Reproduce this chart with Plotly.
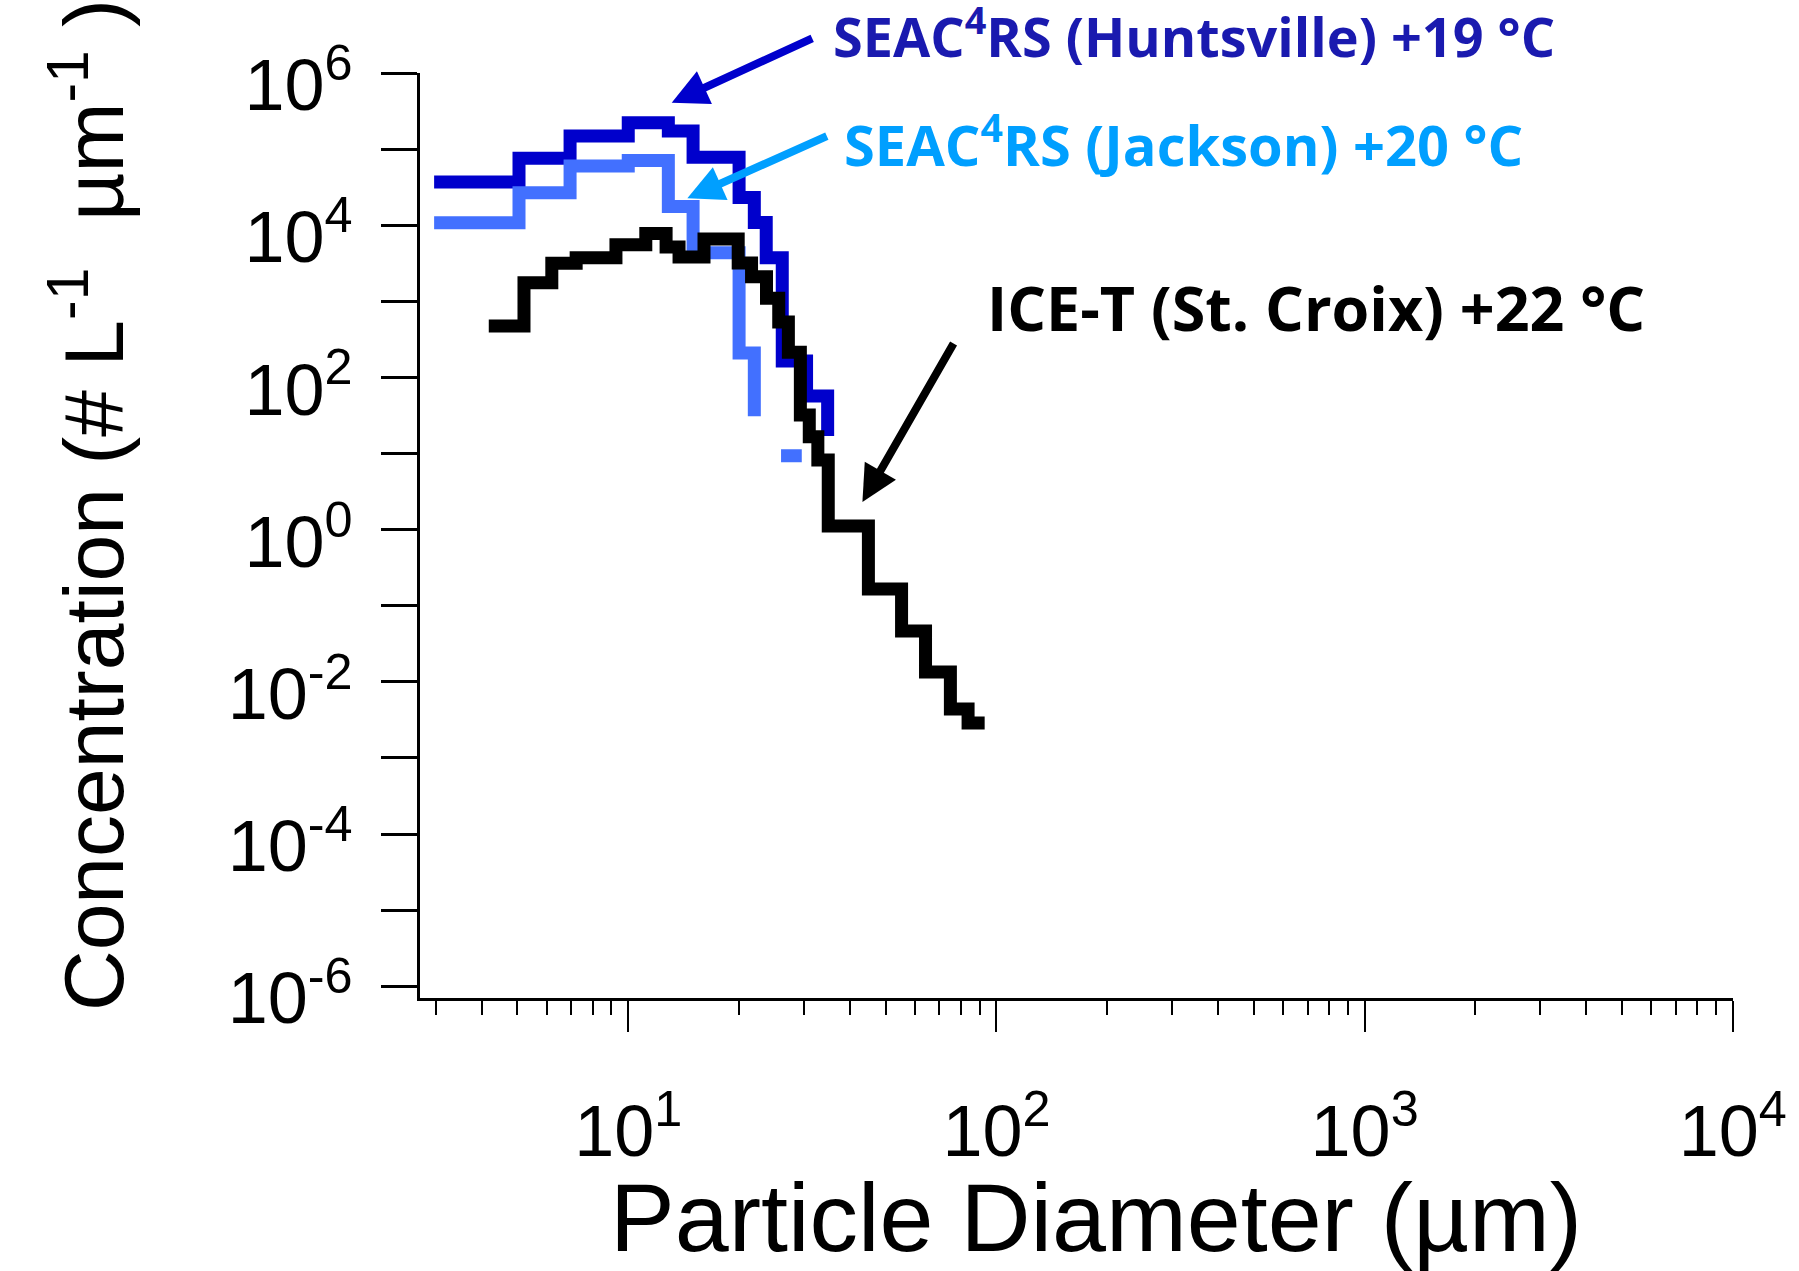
import plotly.graph_objects as go

# ---------------- data ----------------
# SEAC4RS bin left edges (um) and concentrations (# L^-1 um^-1)
seac_bins = [2.97, 5.05, 6.95, 10.0, 12.85, 15.0, 20.0, 22.0, 23.7, 26.2, 30.5, 34.8]
huntsville_conc = [3.7e4, 7.6e4, 1.49e5, 2.22e5, 1.73e5, 7.8e4, 2.31e4, 1.09e4, 3.74e3, 164, 57, 17]

jackson_bins = [2.97, 5.05, 6.95, 10.0, 12.85, 15.0, 20.0, 22.0]
jackson_conc = [1.08e4, 2.67e4, 6.0e4, 7.1e4, 1.76e4, 4.35e3, 209, 31]
jackson_tail_bins = [26.0, 29.6]
jackson_tail_conc = [9.35, 9.35]

# ICE-T (St. Croix)
icet_bins = [4.18, 5.21, 6.20, 7.22, 9.26, 11.16, 12.67, 13.74, 16.06, 19.89, 21.62,
             23.74, 25.63, 27.22, 29.34, 31.02, 32.73, 34.93, 44.9, 55.25, 64.18,
             74.98, 83.75, 92.9]
icet_conc = [474, 1755, 3160, 3740, 5540, 7780, 5170, 3820, 6590, 3190, 2105,
             1095, 535, 214, 32.1, 16.6, 8.21, 1.115, 0.166, 0.0465, 0.01345,
             0.00439, 0.00287, 0.00287]

# axis ticks
y_exponents = list(range(-6, 7))
x_exponents = [1, 2, 3, 4]
x_minor = [3, 4, 5, 6, 7, 8, 9, 20, 30, 40, 50, 60, 70, 80, 90,
           200, 300, 400, 500, 600, 700, 800, 900,
           2000, 3000, 4000, 5000, 6000, 7000, 8000, 9000]

labels = {
    "hunts": "SEAC<sup>4</sup>RS (Huntsville) +19 °C",
    "jack": "SEAC<sup>4</sup>RS (Jackson) +20 °C",
    "icet": "ICE-T (St. Croix) +22 °C",
}

# ---------------- figure ----------------
DARK_BLUE = "#0000CC"
MID_BLUE = "#4270FF"
TEXT_BLUE = "#1A1AAF"
LIGHT_BLUE = "#009FFF"
ARIAL = "Liberation Sans, Arial"

fig = go.Figure()
fig.add_trace(go.Scatter(x=seac_bins, y=huntsville_conc, mode="lines",
                         line=dict(shape="hv", color=DARK_BLUE, width=13),
                         showlegend=False))
fig.add_trace(go.Scatter(x=jackson_bins + [None] + jackson_tail_bins,
                         y=jackson_conc + [None] + jackson_tail_conc,
                         mode="lines", connectgaps=False,
                         line=dict(shape="hv", color=MID_BLUE, width=13),
                         showlegend=False))
fig.add_trace(go.Scatter(x=icet_bins, y=icet_conc, mode="lines",
                         line=dict(shape="hv", color="black", width=13),
                         showlegend=False))

L, R, T, B = 420, 62, 73, 273
W, H = 1799, 1271

fig.update_layout(
    width=W, height=H,
    margin=dict(l=L, r=R, t=T, b=B, pad=0),
    paper_bgcolor="white", plot_bgcolor="white",
    showlegend=False,
    xaxis=dict(
        type="log", range=[0.4344, 4.0005],
        showline=True, linecolor="black", linewidth=3,
        showgrid=False, zeroline=False,
        ticks="outside", ticklen=31, tickwidth=2, tickcolor="black",
        tickvals=[10 ** e for e in x_exponents],
        ticktext=["10<sup>%d</sup>" % e for e in x_exponents],
        tickfont=dict(family=ARIAL, size=72, color="black"),
        ticklabelstandoff=38,
        minor=dict(tickvals=x_minor, ticks="outside", ticklen=14, tickwidth=2,
                   tickcolor="black", showgrid=False),
    ),
    yaxis=dict(
        type="log", range=[-6.155, 6.0005],
        showline=True, linecolor="black", linewidth=3,
        showgrid=False, zeroline=False,
        ticks="outside", ticklen=36, tickwidth=3, tickcolor="black",
        tickvals=[10.0 ** e for e in y_exponents],
        ticktext=[("10<sup>%d</sup>" % e) if e % 2 == 0 else "" for e in y_exponents],
        tickfont=dict(family=ARIAL, size=72, color="black"),
        ticklabelstandoff=14,
        ticklabelshift=12,
    ),
)

pw = W - L - R
ph = H - T - B


def px(X):
    return (X - L) / pw


def py(Y):
    return (H - B - Y) / ph


ann_font = dict(family="Open Sans", weight="bold")

# axis titles
fig.add_annotation(xref="paper", yref="paper", x=px(87), y=py(505),
                   text="Concentration (# L<sup>-1</sup>  µm<sup>-1</sup> )",
                   textangle=-90, showarrow=False, xanchor="center", yanchor="middle",
                   font=dict(family=ARIAL, size=84, color="black"))
fig.add_annotation(xref="paper", yref="paper", x=px(1098), y=py(1217),
                   text="Particle Diameter (µm)", showarrow=False,
                   xanchor="center", yanchor="middle",
                   font=dict(family=ARIAL, size=97, color="black"))

# labels
fig.add_annotation(xref="paper", yref="paper", x=px(832), y=py(34), text=labels["hunts"],
                   showarrow=False, xanchor="left", yanchor="middle",
                   font=dict(ann_font, size=54, color=TEXT_BLUE))
fig.add_annotation(xref="paper", yref="paper", x=px(843), y=py(141), text=labels["jack"],
                   showarrow=False, xanchor="left", yanchor="middle",
                   font=dict(ann_font, size=56, color=LIGHT_BLUE))
fig.add_annotation(xref="paper", yref="paper", x=px(987), y=py(307), text=labels["icet"],
                   showarrow=False, xanchor="left", yanchor="middle",
                   font=dict(ann_font, size=61, color="black"))

# arrows (head at data position, tail offset in pixels)
arrow_common = dict(text="", showarrow=True, arrowhead=2, arrowsize=0.9,
                    arrowwidth=8, standoff=0, startstandoff=0, axref="pixel", ayref="pixel")
fig.add_annotation(x=1.118, y=5.61, ax=142, ay=-65, arrowcolor=DARK_BLUE, **arrow_common)
fig.add_annotation(x=1.1605, y=4.353, ax=141, ay=-63, arrowcolor=LIGHT_BLUE, **arrow_common)
fig.add_annotation(x=1.636, y=0.3627, ax=92, ay=-160, arrowcolor="black", **arrow_common)

fig.write_html("out.html")
